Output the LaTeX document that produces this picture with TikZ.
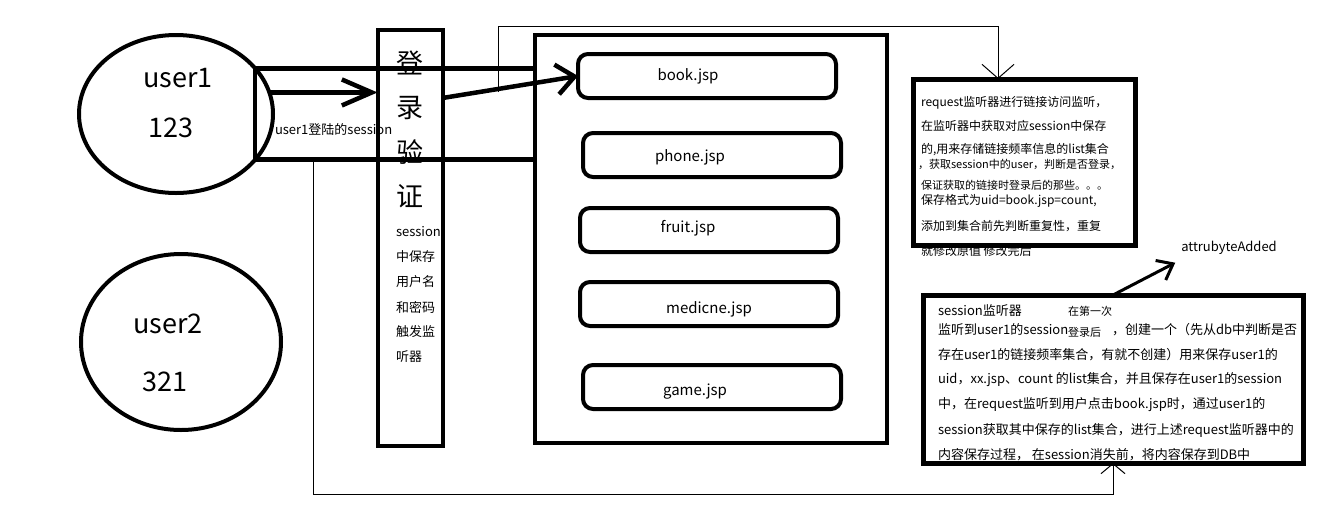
\documentclass[tikz,border=0pt]{standalone}
\usepackage{fontspec}
\setmainfont{Noto Sans CJK SC}
\usetikzlibrary{shapes.geometric,arrows.meta}

\begin{document}
\begin{tikzpicture}[x=1pt,y=-1pt,
every node/.style={inner sep=0pt, outer sep=0pt},
user/.style={ellipse, draw, line width=4pt},
box/.style={draw, line width=5pt},
page/.style={draw, line width=4pt, rounded corners=10pt, minimum width=258pt, minimum height=44pt},
big/.style={font=\fontsize{27}{30}\selectfont},
jsp/.style={font=\fontsize{15}{18}\selectfont},
txt/.style={anchor=west, font=\fontsize{13}{15}\selectfont},
note/.style={anchor=west, font=\fontsize{12}{14}\selectfont},
small/.style={anchor=west, font=\fontsize{11}{13}\selectfont},
heavyline/.style={line width=4.5pt},
heavyarrow/.style={line width=4.5pt, -{Straight Barb[length=30pt,width=26pt]}},
thinarrow/.style={line width=1pt, -{Straight Barb[length=14pt,width=32pt]}}]

\useasboundingbox[fill=white] (0,0) rectangle (1335,531);

\node[user, minimum width=194pt, minimum height=158pt] (user1) at (176,114) {};
\node[big] (user1name) at (178,78) {user1};
\node[big] (user1pw) at (171,128) {123};
\node[user, minimum width=200pt, minimum height=176pt] (user2) at (181,342) {};
\node[big] (user2name) at (168,324) {user2};
\node[big] (user2pw) at (165,382) {321};

\node[box, line width=4pt, minimum width=65pt, minimum height=416pt] (login) at (410,238) {};
\node[big] (login1) at (410,63) {登};
\node[big] (login2) at (410,108) {录};
\node[big] (login3) at (410,152) {验};
\node[big] (login4) at (410,196) {证};
\node[txt] (login5) at (396,232) {session};
\node[txt] (login6) at (396,257) {中保存};
\node[txt] (login7) at (396,282) {用户名};
\node[txt] (login8) at (396,307) {和密码};
\node[txt] (login9) at (396,332) {触发监};
\node[txt] (login10) at (396,357) {听器};

\node[box, line width=4pt, minimum width=352pt, minimum height=408pt] (pages) at (711,239) {};
\node[page] (book) at (707,76) {};
\node[jsp] (booktext) at (688,76) {book.jsp};
\node[page] (phone) at (712,155) {};
\node[jsp] (phonetext) at (690,157) {phone.jsp};
\node[page] (fruit) at (709,230) {};
\node[jsp] (fruittext) at (688,228) {fruit.jsp};
\node[page] (medicne) at (709,304) {};
\node[jsp] (medicnetext) at (709,309) {medicne.jsp};
\node[page] (game) at (712,387) {};
\node[jsp] (gametext) at (695,392) {game.jsp};

\node[note] (req1) at (921,103) {request监听器进行链接访问监听，};
\node[note] (req2) at (921,126) {在监听器中获取对应session中保存};
\node[note] (req3) at (921,150) {的,用来存储链接频率信息的list集合};
\node[small] (req4) at (918,164) {，获取session中的user，判断是否登录，};
\node[small] (req5) at (921,185) {保证获取的链接时登录后的那些。。。};
\node[note] (req6) at (921,201) {保存格式为uid=book.jsp=count,};
\node[note] (req7) at (921,226) {添加到集合前先判断重复性，重复};
\node[note] (req8) at (921,251) {就修改原值 修改完后};
\node[box, minimum width=222pt, minimum height=166pt] (req) at (1024,162) {};

\node[txt, anchor=center] (attr) at (1229,248) {attrubyteAdded};

\node[box, minimum width=380pt, minimum height=168pt] (sess) at (1113,379) {};
\node[txt] (sess1) at (938,311) {session监听器};
\node[small] (sess2) at (1068,311) {在第一次};
\node[txt] (sess3) at (938,330) {监听到user1的session};
\node[small, fill=white] (sess4) at (1068,332) {登录后};
\node[txt] (sess5) at (1112,330) {，创建一个（先从db中判断是否};
\node[txt] (sess6) at (938,355) {存在user1的链接频率集合，有就不创建）用来保存user1的};
\node[txt] (sess7) at (938,380) {uid，xx.jsp、count 的list集合，并且保存在user1的session};
\node[txt] (sess8) at (938,405) {中，在request监听到用户点击book.jsp时，通过user1的};
\node[txt] (sess9) at (938,430) {session获取其中保存的list集合，进行上述request监听器中的};
\node[txt] (sess10) at (938,455) {内容保存过程， 在session消失前，将内容保存到DB中};

\node[txt] (sesslabel) at (275,130) {user1登陆的session};

\draw[heavyline] (user1.30) -- (user1.30 -| pages.west);
\draw[heavyline] (user1.-30) -- (user1.-30 -| pages.west);
\draw[heavyline] (user1.30) -- (user1.-30);
\draw[heavyarrow] (user1.13) -- (user1.13 -| login.west);
\draw[heavyline, -{Straight Barb[length=18pt,width=30pt]}] (login.east |- book.south) -- (book.west);

\coordinate (tap) at (498,92);
\coordinate (bend) at (998,26);
\draw[thinarrow] (tap) |- (bend) -- (bend |- req.north);

\coordinate (drop) at (313,494);
\draw[thinarrow, -{Straight Barb[length=10pt,width=24pt]}] (drop |- user1.-30) -- (drop) -| (sess.south);

\draw[line width=3pt, -{Straight Barb[length=14pt,width=22pt]}] (sess.north) -- ([xshift=-6pt,yshift=-8pt]attr.south west);
\end{tikzpicture}
\end{document}
